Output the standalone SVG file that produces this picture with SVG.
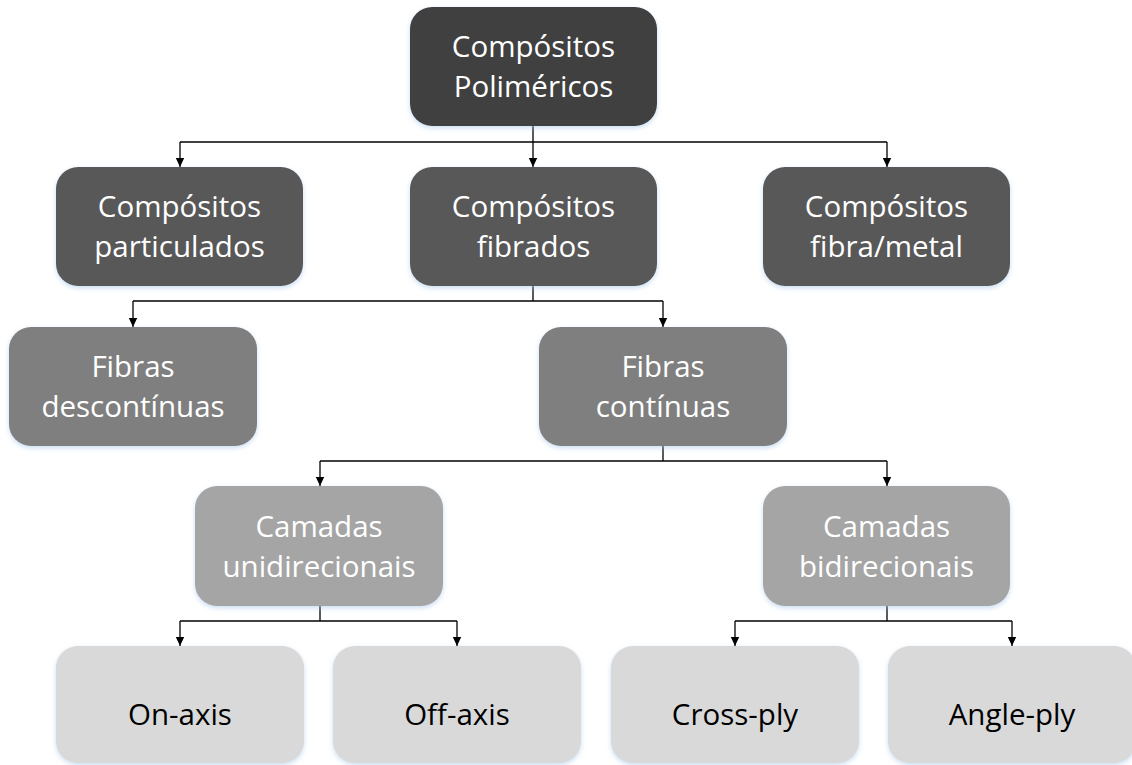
<svg xmlns="http://www.w3.org/2000/svg" width="1132" height="765" viewBox="0 0 1132 765">
<defs>
<style>
.box{stroke:none;filter:url(#sh)}
.l1{fill:#404040}.l2{fill:#595959}.l3{fill:#7f7f7f}.l4{fill:#a5a5a5}.l5{fill:#d9d9d9}
text{font-family:"Open Sans","Liberation Sans",sans-serif;font-size:29.5px;text-anchor:middle}
.w{fill:#ffffff}.k{fill:#000000}
.c{fill:none;stroke:#000;stroke-width:1.3}
</style>
<filter id="sh" x="-10%" y="-10%" width="120%" height="125%">
<feDropShadow dx="0" dy="2" stdDeviation="2.5" flood-color="#9dc3e6" flood-opacity="0.55"/>
</filter>
<marker id="ar" markerUnits="userSpaceOnUse" markerWidth="10" markerHeight="10" refX="9" refY="5" orient="auto">
<path d="M0,0.8 L9,5 L0,9.2 Z" fill="#000"/>
</marker>
</defs>
<g id="connectors">
<path class="c" d="M533,126 V142"/>
<path class="c" d="M180,142 H887"/>
<path class="c" d="M180,142 V167" marker-end="url(#ar)"/>
<path class="c" d="M533,142 V167" marker-end="url(#ar)"/>
<path class="c" d="M887,142 V167" marker-end="url(#ar)"/>
<path class="c" d="M533,286 V301"/>
<path class="c" d="M133,301 H663"/>
<path class="c" d="M133,301 V327" marker-end="url(#ar)"/>
<path class="c" d="M663,301 V327" marker-end="url(#ar)"/>
<path class="c" d="M663,446 V461"/>
<path class="c" d="M320,461 H887"/>
<path class="c" d="M320,461 V486" marker-end="url(#ar)"/>
<path class="c" d="M887,461 V486" marker-end="url(#ar)"/>
<path class="c" d="M320,606 V621"/>
<path class="c" d="M180,621 H457"/>
<path class="c" d="M180,621 V646" marker-end="url(#ar)"/>
<path class="c" d="M457,621 V646" marker-end="url(#ar)"/>
<path class="c" d="M887,606 V621"/>
<path class="c" d="M735,621 H1012"/>
<path class="c" d="M735,621 V646" marker-end="url(#ar)"/>
<path class="c" d="M1012,621 V646" marker-end="url(#ar)"/>
</g>
<g id="n-polimericos">
<rect class="box l1" x="410" y="7" width="247" height="119" rx="22"/>
<text class="w" x="533.5" y="57">Compósitos</text>
<text class="w" x="533.5" y="97">Poliméricos</text>
</g>
<g id="n-particulados">
<rect class="box l2" x="56" y="167" width="247" height="119" rx="22"/>
<text class="w" x="179.5" y="217">Compósitos</text>
<text class="w" x="179.5" y="257">particulados</text>
</g>
<g id="n-fibrados">
<rect class="box l2" x="410" y="167" width="247" height="119" rx="22"/>
<text class="w" x="533.5" y="217">Compósitos</text>
<text class="w" x="533.5" y="257">fibrados</text>
</g>
<g id="n-fibrametal">
<rect class="box l2" x="763" y="167" width="247" height="119" rx="22"/>
<text class="w" x="886.5" y="217">Compósitos</text>
<text class="w" x="886.5" y="257">fibra/metal</text>
</g>
<g id="n-descontinuas">
<rect class="box l3" x="9" y="327" width="248" height="119" rx="22"/>
<text class="w" x="133" y="377">Fibras</text>
<text class="w" x="133" y="417">descontínuas</text>
</g>
<g id="n-continuas">
<rect class="box l3" x="539" y="327" width="248" height="119" rx="22"/>
<text class="w" x="663" y="377">Fibras</text>
<text class="w" x="663" y="417">contínuas</text>
</g>
<g id="n-unidirecionais">
<rect class="box l4" x="195" y="486" width="248" height="120" rx="22"/>
<text class="w" x="319" y="537">Camadas</text>
<text class="w" x="319" y="577">unidirecionais</text>
</g>
<g id="n-bidirecionais">
<rect class="box l4" x="763" y="486" width="247" height="120" rx="22"/>
<text class="w" x="886.5" y="537">Camadas</text>
<text class="w" x="886.5" y="577">bidirecionais</text>
</g>
<g id="n-onaxis">
<rect class="box l5" x="56" y="646" width="248" height="117" rx="22"/>
<text class="k" x="180" y="725">On-axis</text>
</g>
<g id="n-offaxis">
<rect class="box l5" x="333" y="646" width="248" height="117" rx="22"/>
<text class="k" x="457" y="725">Off-axis</text>
</g>
<g id="n-crossply">
<rect class="box l5" x="611" y="646" width="248" height="117" rx="22"/>
<text class="k" x="735" y="725">Cross-ply</text>
</g>
<g id="n-angleply">
<rect class="box l5" x="888" y="646" width="248" height="117" rx="22"/>
<text class="k" x="1012" y="725">Angle-ply</text>
</g>
</svg>
